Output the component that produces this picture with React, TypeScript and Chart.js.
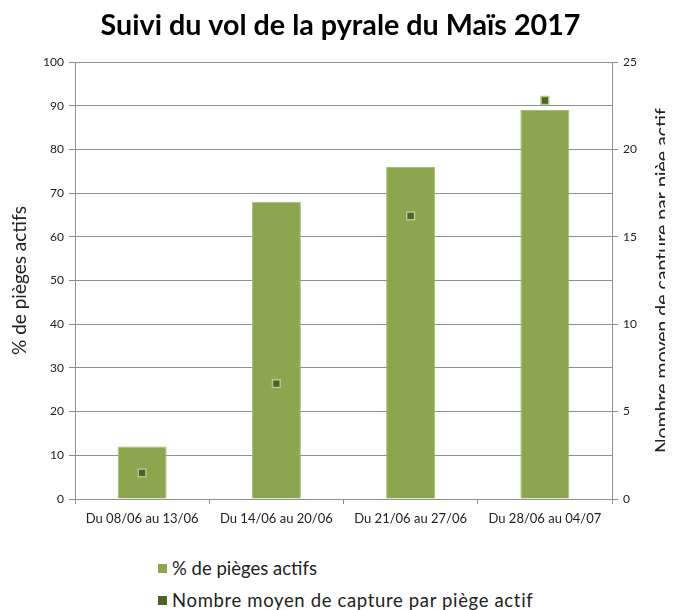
import React, { useEffect, useRef } from "react";
import { Chart, registerables } from "chart.js";

Chart.register(...registerables);

const categories = ["Du 08/06 au 13/06", "Du 14/06 au 20/06", "Du 21/06 au 27/06", "Du 28/06 au 04/07"];
const pctPieges = [12, 68, 76, 89];
const captures = [1.5, 6.6, 16.2, 22.8];
const leftTicks = [0, 100, 10];
const rightTicks = [0, 25, 5];

const BAR_COLOR = "#8ba64f";
const MARK_COLOR = "#4f6228";
const GRID = "#8f8f8f";
const FONT = "Lato";
const CANVAS_W = 665;
const CANVAS_H = 532;

const rightTitlePlugin = {
  id: "rightTitle",
  afterDraw(chart: any) {
    const { ctx, chartArea } = chart;
    ctx.save();
    ctx.font = `19.5px ${FONT}`;
    ctx.fillStyle = "#222";
    ctx.textAlign = "center";
    ctx.textBaseline = "middle";
    ctx.translate(655, (chartArea.top + chartArea.bottom) / 2);
    ctx.rotate(-Math.PI / 2);
    ctx.fillText("Nombre moyen de capture par pièe actif", 0, 0);
    ctx.restore();
  },
};

export default function App() {
  const ref = useRef<HTMLCanvasElement>(null);
  useEffect(() => {
    document.body.style.margin = "8px 8px 0 8px";
    const chart = new Chart(ref.current!, {
      type: "bar",
      data: {
        labels: categories,
        datasets: [
          {
            type: "line",
            label: "Nombre moyen de capture par piège actif",
            data: captures,
            yAxisID: "y1",
            showLine: false,
            pointStyle: "rect",
            pointRadius: 5.5,
            pointBackgroundColor: MARK_COLOR,
            pointBorderColor: "#b3c88a",
            pointBorderWidth: 1.5,
            order: 0,
          } as any,
          {
            type: "bar",
            label: "% de pièges actifs",
            data: pctPieges,
            yAxisID: "y",
            backgroundColor: BAR_COLOR,
            borderColor: "#a3bd70",
            borderWidth: 1,
            barPercentage: 0.365,
            categoryPercentage: 1,
            order: 1,
          },
        ],
      },
      options: {
        responsive: false,
        animation: false,
        layout: { padding: 0 },
        plugins: {
          legend: { display: false },
          tooltip: { enabled: false },
          title: {
            display: true,
            text: "Suivi du vol de la pyrale du Maïs 2017",
            color: "#000",
            font: { family: FONT, size: 28.7, weight: "bold", lineHeight: 1.2 },
            padding: { top: 0.8, bottom: 18.8 },
          },
        },
        scales: {
          x: {
            offset: true,
            grid: {
              offset: true,
              drawOnChartArea: false,
              drawTicks: true,
              tickLength: 5,
              color: GRID,
            },
            border: { display: true, color: GRID },
            ticks: { color: "#222", font: { family: FONT, size: 13 }, padding: 7, maxRotation: 0 },
            afterFit(scale: any) {
              scale.height = CANVAS_H - 491;
            },
          },
          y: {
            position: "left",
            min: leftTicks[0],
            max: leftTicks[1],
            ticks: { stepSize: leftTicks[2], color: "#222", font: { family: FONT, size: 12 }, padding: 5 },
            grid: { color: GRID, tickLength: 6 },
            border: { display: true, color: GRID },
            title: {
              display: true,
              text: "% de pièges actifs",
              color: "#222",
              font: { family: FONT, size: 19 },
              padding: 0,
            },
            afterFit(scale: any) {
              scale.width = 67;
            },
          },
          y1: {
            position: "right",
            min: rightTicks[0],
            max: rightTicks[1],
            ticks: { stepSize: rightTicks[2], color: "#222", font: { family: FONT, size: 12 }, padding: 5 },
            grid: { drawOnChartArea: false, color: GRID, tickLength: 6 },
            border: { display: true, color: GRID },
            afterFit(scale: any) {
              scale.width = CANVAS_W - 604;
            },
          },
        },
      },
      plugins: [rightTitlePlugin],
    } as any);
    return () => chart.destroy();
  }, []);

  const legendRow = (color: string, text: string, centerY: number, spacing: number) => (
    <div
      style={{
        position: "absolute",
        left: 150,
        top: centerY - 10,
        display: "flex",
        alignItems: "center",
        fontFamily: FONT,
        fontSize: 18.5,
        color: "#222",
        whiteSpace: "nowrap",
        lineHeight: "20px",
        height: 20,
      }}
    >
      <span style={{ display: "inline-block", width: 9, height: 9, background: color, marginRight: 5 }} />
      <span style={{ letterSpacing: spacing }}>{text}</span>
    </div>
  );

  return (
    <div style={{ position: "relative", width: CANVAS_W, height: 602, overflow: "hidden" }}>
      <canvas ref={ref} width={CANVAS_W} height={CANVAS_H} style={{ display: "block" }} />
      {legendRow(BAR_COLOR, "% de pièges actifs", 560, 0)}
      {legendRow(MARK_COLOR, "Nombre moyen de capture par piège actif", 592, 0.65)}
    </div>
  );
}
